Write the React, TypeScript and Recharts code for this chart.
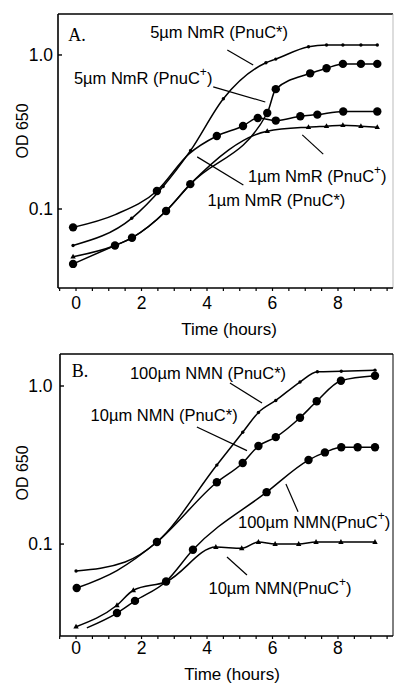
import React from 'react';
import { LineChart, Line, XAxis, YAxis, ReferenceLine, ReferenceDot } from 'recharts';

// ---- panel A: NmR ----
const a5StarT = [-0.09, 1.7, 2.66, 3.5, 4.5, 5.8, 6.1, 7.1, 7.65, 8.15, 8.7, 9.2];
const a5StarV = [0.058, 0.087, 0.14, 0.24, 0.52, 0.89, 0.94, 1.13, 1.16, 1.16, 1.16, 1.16];
const a5PlusT = [-0.09, 1.19, 1.71, 2.75, 3.49, 5.84, 6.1, 7.15, 7.65, 8.15, 8.7, 9.2];
const a5PlusV = [0.044, 0.058, 0.065, 0.097, 0.145, 0.42, 0.6, 0.76, 0.82, 0.875, 0.875, 0.875];
const a1PlusT = [-0.09, 1.19, 1.71, 2.75, 3.49, 5.84, 7.1, 7.65, 8.15, 8.7, 9.2];
const a1PlusV = [0.049, 0.058, 0.065, 0.097, 0.145, 0.32, 0.34, 0.345, 0.35, 0.345, 0.34];
const a1StarT = [-0.09, 1.2, 2.47, 3.45, 4.3, 5.1, 5.55, 6.1, 6.85, 7.37, 8.16, 9.2];
const a1StarV = [0.076, 0.092, 0.131, 0.228, 0.298, 0.346, 0.39, 0.375, 0.4, 0.41, 0.43, 0.43];
const a1StarNoMark = [1, 3];

// ---- panel B: NMN ----
const b100StarT = [0, 1.5, 2.47, 4.3, 5.09, 5.57, 6.1, 6.84, 7.37, 8.1, 9.13];
const b100StarV = [0.0675, 0.077, 0.103, 0.316, 0.51, 0.68, 0.81, 1.06, 1.23, 1.24, 1.26];
const b100StarNoMark = [1];
const b10StarT = [0.02, 1.25, 2.47, 4.3, 5.09, 5.57, 6.1, 6.84, 7.35, 8.09, 9.13];
const b10StarV = [0.0527, 0.068, 0.103, 0.246, 0.326, 0.417, 0.475, 0.63, 0.8, 1.08, 1.16];
const b10StarNoMark = [1];
const b100PlusT = [0.33, 1.25, 1.8, 2.75, 3.57, 5.82, 7.1, 7.6, 8.1, 8.6, 9.13];
const b100PlusV = [0.0295, 0.0366, 0.0437, 0.058, 0.092, 0.213, 0.34, 0.38, 0.41, 0.41, 0.41];
const b100PlusNoMark = [0];
const b10PlusT = [0, 1.25, 1.75, 2.77, 4.27, 5.06, 5.57, 6.08, 6.8, 7.33, 8.09, 9.13];
const b10PlusV = [0.03, 0.041, 0.051, 0.058, 0.0957, 0.094, 0.103, 0.1, 0.1, 0.103, 0.103, 0.103];

const xTicks = [-0.5, 0, 0.5, 1, 1.5, 2, 2.5, 3, 3.5, 4, 4.5, 5, 5.5, 6, 6.5, 7, 7.5, 8, 8.5, 9, 9.5];
const yTicks = [0.1, 1];

const aNotes = [
  { text: 'A.', t: 0.03, v: 1.35, serif: true },
  { text: '5µm NmR (PnuC*)', t: 4.37, v: 1.41 },
  { text: '5µm NmR (PnuC+)', t: 2.05, v: 0.71 },
  { text: '1µm NmR (PnuC+)', t: 7.37, v: 0.164 },
  { text: '1µm NmR (PnuC*)', t: 6.12, v: 0.114 },
];
const aPointers = [
  [4.62, 1.077, 5.41, 0.861],
  [4.19, 0.62, 5.78, 0.495],
  [6.91, 0.303, 7.55, 0.227],
  [3.7, 0.218, 5.11, 0.143],
];
const bNotes = [
  { text: 'B.', t: 0.12, v: 1.24, serif: true },
  { text: '100µm NMN (PnuC*)', t: 4.03, v: 1.21 },
  { text: '10µm NMN (PnuC*)', t: 2.69, v: 0.655 },
  { text: '100µm NMN(PnuC+)', t: 7.27, v: 0.138 },
  { text: '10µm NMN(PnuC+)', t: 6.23, v: 0.0527 },
];
const bPointers = [
  [4.7, 1.045, 5.68, 0.78],
  [3.69, 0.55, 5.22, 0.39],
  [6.41, 0.24, 6.78, 0.16],
  [4.61, 0.0828, 5.22, 0.0637],
];

const SANS = '"Liberation Sans", Arial, sans-serif';
const SERIF = '"Liberation Serif", "Times New Roman", serif';

const rows = (t: number[], v: number[], noMark: number[] = []) =>
  t.map((x, i) => ({ t: x, v: v[i], hide: noMark.includes(i) }));

const bigDot = (p: any) =>
  p.payload?.hide ? <g key={p.index} /> : <circle key={p.index} cx={p.cx} cy={p.cy} r={4.2} fill="#000" />;
const smallDot = (p: any) =>
  p.payload?.hide ? <g key={p.index} /> : <circle key={p.index} cx={p.cx} cy={p.cy} r={1.7} fill="#000" />;
const triangle = (p: any) => (
  <polygon
    key={p.index}
    points={`${p.cx},${p.cy - 3} ${p.cx - 2.7},${p.cy + 1.9} ${p.cx + 2.7},${p.cy + 1.9}`}
    fill="#000"
  />
);

function RichText({ x, y, text, serif }: { x: number; y: number; text: string; serif?: boolean }) {
  const parts = text.split('+');
  return (
    <text
      x={x}
      y={y}
      textAnchor="middle"
      dominantBaseline="central"
      fontFamily={serif ? SERIF : SANS}
      fontSize={serif ? 18 : 16.5}
      fill="#000"
    >
      {parts.length === 1 ? (
        text
      ) : (
        <>
          <tspan>{parts[0]}</tspan>
          <tspan dy={-6} fontSize={12}>+</tspan>
          <tspan dy={6}>{parts[1]}</tspan>
        </>
      )}
    </text>
  );
}

interface Series {
  data: { t: number; v: number; hide: boolean }[];
  dot: (p: any) => React.ReactElement;
}

interface PanelProps {
  height: number;
  margin: { top: number; right: number; bottom: number; left: number };
  yWidth: number;
  xDomain: [number, number];
  yDomain: [number, number];
  series: Series[];
  notes: { text: string; t: number; v: number; serif?: boolean }[];
  pointers: number[][];
  tickDy: number;
  yTickGap: number;
  titleX: number;
  titleDy: number;
  odY: number;
  rightStroke: string;
}

function Panel(props: PanelProps) {
  const { xDomain, yDomain } = props;
  const xTick = (p: any) => {
    const v = p.payload.value;
    const major = v >= 0 && v % 2 === 0;
    return (
      <g>
        <line x1={p.x} x2={p.x} y1={p.y} y2={p.y + 3} stroke="#000" strokeWidth={1.2} />
        {major && (
          <text x={p.x} y={p.y + props.tickDy} textAnchor="middle" dominantBaseline="central"
            fontFamily={SANS} fontSize={17.5} fill="#000">
            {v}
          </text>
        )}
      </g>
    );
  };
  const yTick = (p: any) => (
    <g>
      <line x1={p.x} x2={p.x + 4} y1={p.y} y2={p.y} stroke="#000" strokeWidth={1.4} />
      <text x={p.x - props.yTickGap} y={p.y} textAnchor="end" dominantBaseline="central"
        fontFamily={SANS} fontSize={17.5} fill="#000">
        {p.payload.value === 1 ? '1.0' : '0.1'}
      </text>
    </g>
  );
  return (
    <LineChart width={394} height={props.height} margin={props.margin}>
      <XAxis
        type="number"
        dataKey="t"
        domain={xDomain}
        allowDataOverflow
        ticks={xTicks}
        interval={0}
        tickSize={0}
        tickMargin={0}
        tickLine={false}
        tick={xTick}
        height={30}
        axisLine={{ stroke: '#000', strokeWidth: 1.6 }}
        label={() => (
          <text x={props.titleX} y={props.height - props.margin.bottom - 30 + props.titleDy}
            textAnchor="middle" dominantBaseline="central" fontFamily={SANS} fontSize={17} fill="#000">
            Time (hours)
          </text>
        )}
      />
      <YAxis
        type="number"
        scale="log"
        domain={yDomain}
        allowDataOverflow
        ticks={yTicks}
        interval={0}
        tickSize={0}
        tickMargin={0}
        tickLine={false}
        tick={yTick}
        width={props.yWidth}
        axisLine={{ stroke: '#000', strokeWidth: 1.6 }}
        label={() => (
          <text x={22} y={props.odY} transform={`rotate(-90 22 ${props.odY})`} textAnchor="middle"
            dominantBaseline="central" fontFamily={SANS} fontSize={16} fill="#000">
            OD 650
          </text>
        )}
      />
      <ReferenceLine y={yDomain[1]} stroke="#000" strokeWidth={1.4} ifOverflow="visible" />
      <ReferenceLine x={xDomain[1]} stroke={props.rightStroke} strokeWidth={1} ifOverflow="visible" />
      {props.pointers.map((s, i) => (
        <ReferenceLine
          key={'p' + i}
          segment={[{ x: s[0], y: s[1] }, { x: s[2], y: s[3] }]}
          stroke="#000"
          strokeWidth={1.2}
          ifOverflow="visible"
        />
      ))}
      {props.series.map((s, i) => (
        <Line
          key={'s' + i}
          data={s.data}
          dataKey="v"
          type="monotone"
          stroke="#000"
          strokeWidth={1.5}
          dot={s.dot}
          activeDot={false}
          isAnimationActive={false}
        />
      ))}
      {props.notes.map((n, i) => (
        <ReferenceDot
          key={'n' + i}
          x={n.t}
          y={n.v}
          r={0}
          ifOverflow="visible"
          shape={(p: any) => <RichText x={p.cx} y={p.cy} text={n.text} serif={n.serif} />}
        />
      ))}
    </LineChart>
  );
}

export default function App() {
  return (
    <div style={{ position: 'absolute', left: 0, top: 0, width: 394, height: 683, background: '#fff' }}>
      <div style={{ position: 'absolute', left: 0, top: 0 }}>
        <Panel
          height={340}
          margin={{ top: 14, right: 1, bottom: 22, left: 0 }}
          yWidth={58}
          xDomain={[-0.55, 9.68]}
          yDomain={[0.0307, 1.845]}
          series={[
            { data: rows(a5StarT, a5StarV), dot: smallDot },
            { data: rows(a1PlusT, a1PlusV), dot: triangle },
            { data: rows(a5PlusT, a5PlusV), dot: bigDot },
            { data: rows(a1StarT, a1StarV, a1StarNoMark), dot: bigDot },
          ]}
          notes={aNotes}
          pointers={aPointers}
          tickDy={15}
          yTickGap={5}
          titleX={229}
          titleDy={41}
          odY={131}
          rightStroke="#bbb"
        />
      </div>
      <div style={{ position: 'absolute', left: 0, top: 340 }}>
        <Panel
          height={343}
          margin={{ top: 14, right: 1, bottom: 17, left: 0 }}
          yWidth={60}
          xDomain={[-0.49, 9.68]}
          yDomain={[0.0262, 1.594]}
          series={[
            { data: rows(b100StarT, b100StarV, b100StarNoMark), dot: smallDot },
            { data: rows(b10PlusT, b10PlusV), dot: triangle },
            { data: rows(b10StarT, b10StarV, b10StarNoMark), dot: bigDot },
            { data: rows(b100PlusT, b100PlusV, b100PlusNoMark), dot: bigDot },
          ]}
          notes={bNotes}
          pointers={bPointers}
          tickDy={11.5}
          yTickGap={7.5}
          titleX={232}
          titleDy={38}
          odY={133}
          rightStroke="#000"
        />
      </div>
    </div>
  );
}
